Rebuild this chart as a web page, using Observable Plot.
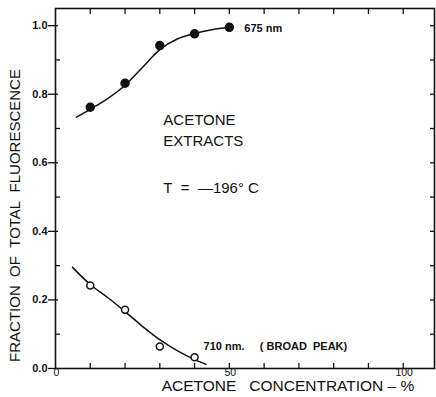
<!DOCTYPE html>
<html>
<head>
<meta charset="utf-8">
<script src="https://cdn.jsdelivr.net/npm/d3@7"></script>
<script src="https://cdn.jsdelivr.net/npm/@observablehq/plot@0.6"></script>
<style>
  html, body { margin: 0; padding: 0; background: #fff; }
  #chart svg { display: block; }
</style>
</head>
<body>
<div id="chart"></div>
<script>
// Measured fractions of total fluorescence at -196 °C, acetone extracts
const conc675 = [10, 20, 30, 40, 50];
const frac675 = [0.762, 0.832, 0.942, 0.976, 0.995];
const conc710 = [10, 20, 30, 40];
const frac710 = [0.242, 0.171, 0.064, 0.033];

// Hand-drawn smooth trend curves through each series
const trendConc675 = [6, 10, 15, 20, 25, 30, 35, 40, 45, 50];
const trendFrac675 = [0.733, 0.756, 0.787, 0.826, 0.878, 0.930, 0.961, 0.977, 0.988, 0.995];
const trendConc710 = [4.9, 10, 15, 20, 25, 30, 35, 40, 43.3];
const trendFrac710 = [0.295, 0.245, 0.207, 0.166, 0.123, 0.084, 0.052, 0.026, 0.012];

// Axis ticks
const xMinorTicks = [10, 20, 30, 40, 50, 60, 70, 80, 90, 100];
const xLabelTicks = [0, 50, 100];
const yMajorTicks = [0, 0.2, 0.4, 0.6, 0.8, 1.0];
const yMinorTicks = [0.1, 0.3, 0.5, 0.7, 0.9];
const yAllTicks = [0.1, 0.2, 0.3, 0.4, 0.5, 0.6, 0.7, 0.8, 0.9, 1.0];

const peak675 = conc675.map((c, i) => ({c, f: frac675[i]}));
const peak710 = conc710.map((c, i) => ({c, f: frac710[i]}));
const trend675 = trendConc675.map((c, i) => ({c, f: trendFrac675[i]}));
const trend710 = trendConc710.map((c, i) => ({c, f: trendFrac710[i]}));

const font = "'Liberation Sans', Arial, Helvetica, sans-serif";
const nb = "\u00a0";

const chart = Plot.plot({
  width: 436,
  height: 397,
  marginLeft: 55,
  marginRight: 2,
  marginTop: 8,
  marginBottom: 29,
  style: {fontFamily: font, color: "#111", background: "#fff"},
  x: {domain: [0, 109]},
  y: {domain: [0, 1.05]},
  marks: [
    Plot.frame({stroke: "#111", strokeWidth: 1.6}),
    // left axis: labelled majors crossing outward, minors inward
    Plot.axisY({anchor: "left", ticks: yMajorTicks, tickSize: 7, tickPadding: 1,
      tickFormat: d3.format(".1f"), label: null, fontSize: 11, fontWeight: "bold", strokeWidth: 1.3}),
    Plot.axisY({anchor: "left", ticks: yMajorTicks, tickSize: -3,
      text: null, label: null, strokeWidth: 1.3}),
    Plot.axisY({anchor: "left", ticks: yMinorTicks, tickSize: -5,
      text: null, label: null, strokeWidth: 1.3}),
    // right axis: inward ticks
    Plot.axisY({anchor: "right", ticks: yAllTicks, tickSize: -5,
      text: null, label: null, strokeWidth: 1.3}),
    // top and bottom: inward ticks every 10 %
    Plot.axisX({anchor: "top", ticks: xMinorTicks, tickSize: -5,
      text: null, label: null, strokeWidth: 1.3}),
    Plot.axisX({anchor: "bottom", ticks: xMinorTicks, tickSize: -5,
      text: null, label: null, strokeWidth: 1.3}),
    Plot.axisX({anchor: "bottom", ticks: xLabelTicks, tickSize: 0, tickPadding: 0,
      tickFormat: d => String(d), label: null, fontSize: 10.5, dx: 1, fill: "#111"}),
    // axis titles
    Plot.text([`ACETONE${nb}${nb}${nb}CONCENTRATION${nb}–${nb}%`], {
      frameAnchor: "bottom", text: d => d, dx: 43, dy: 18, lineAnchor: "middle",
      fontSize: 15.5, fill: "#111"
    }),
    Plot.text([`FRACTION${nb}${nb}OF${nb}${nb}TOTAL${nb}${nb}FLUORESCENCE`], {
      frameAnchor: "left", text: d => d, rotate: -90, dx: -40, dy: 27,
      textAnchor: "middle", lineAnchor: "middle", fontSize: 15, fill: "#111",
      letterSpacing: "0.7px"
    }),
    // trend curves
    Plot.line(trend675, {x: "c", y: "f", curve: "monotone-x", stroke: "#111", strokeWidth: 1.5}),
    Plot.line(trend710, {x: "c", y: "f", curve: "monotone-x", stroke: "#111", strokeWidth: 1.5}),
    // measured points
    Plot.dot(peak675, {x: "c", y: "f", r: 4, fill: "#111", stroke: "#111"}),
    Plot.dot(peak710, {x: "c", y: "f", r: 3.5, fill: "#fff", stroke: "#111", strokeWidth: 1.5}),
    // series labels, placed beside the last point of each series
    Plot.text(peak675.slice(-1), {x: "c", y: "f", text: () => `675${nb}nm`, textAnchor: "start",
      dx: 15, dy: 1.5, fontSize: 11, fontWeight: "bold", fill: "#111"}),
    Plot.text(peak710.slice(-1), {x: "c", y: "f",
      text: () => `710${nb}nm.${nb}${nb}${nb}${nb}${nb}(${nb}BROAD${nb}${nb}PEAK)`, textAnchor: "start",
      dx: 9, dy: -10.5, fontSize: 11, fontWeight: "bold", fill: "#111", letterSpacing: "0.6px"}),
    // conditions note
    Plot.text([`ACETONE\nEXTRACTS`], {x: 31, y: 0.70, text: d => d, textAnchor: "start",
      lineHeight: 1.4, fontSize: 15, fill: "#111", letterSpacing: "1px"}),
    Plot.text([`T${nb}${nb}=${nb}${nb}—196°${nb}C`], {x: 31, y: 0.525, text: d => d, textAnchor: "start",
      fontSize: 15, fill: "#111", letterSpacing: "0.5px"})
  ]
});

document.getElementById("chart").append(chart);
</script>
</body>
</html>
